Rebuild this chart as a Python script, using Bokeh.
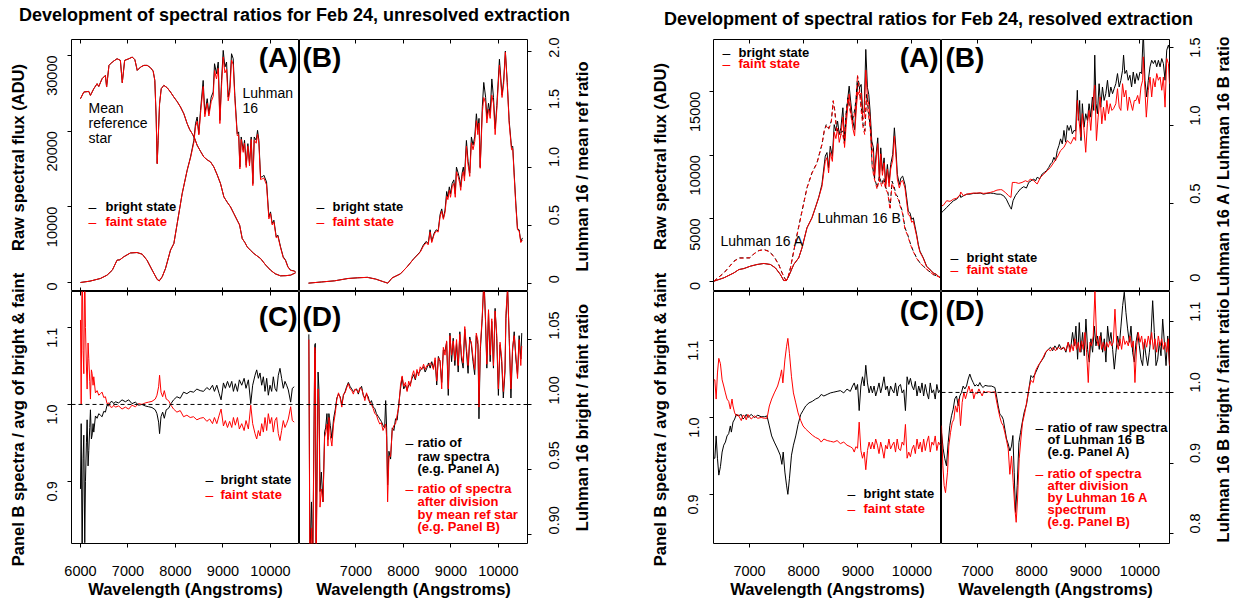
import math
from bokeh.plotting import figure
from bokeh.models import Range1d, LinearAxis, FixedTicker, Label, Span
from bokeh.layouts import row, column
from bokeh.embed import file_html
from bokeh.resources import INLINE

FONT = "Liberation Sans"
BLACK = "#000000"
RED = "#ff0000"

# ---------------- data: unresolved extraction (left group) ----------------
ref_star_flux = [(6000,24290),(6070,25170),(6175,25250),(6210,24730),(6280,25600),(6350,26270),(6385,25900),(6455,26930),(6525,27370),(6550,25830),(6600,28690),(6670,29130),(6770,29570),(6840,29350),(6880,26400),(6930,29350),(7020,29570),(7090,29790),(7145,29440),(7195,28030),(7265,28470),(7335,28690),(7405,28690),(7475,28380),(7530,27940),(7565,26700),(7593,21870),(7615,15710),(7635,18790),(7665,23630),(7700,25610),(7755,26050),(7825,25740),(7895,25170),(7966,24500),(8036,23900),(8106,23190),(8176,22300),(8246,20990),(8300,20200),(8352,19670),(8400,19100),(8457,18130),(8530,17300),(8597,16590),(8670,16200),(8738,15930),(8808,15270),(8880,14200),(8948,13070),(9019,11310),(9090,10600),(9159,9990),(9230,9100),(9299,8230),(9350,7600),(9405,5810),(9460,5300),(9510,4710),(9580,4250),(9650,3830),(9720,3500),(9791,3170),(9900,2300),(10001,1630),(10100,1150),(10212,880),(10320,900),(10423,970),(10528,1280)]

l16_bright_flux = [(6000,0),(6200,180),(6420,530),(6560,970),(6670,1630),(6770,2950),(6830,3000),(6910,3390),(7050,3900),(7190,3960),(7300,3740),(7400,2950),(7510,1630),(7615,400),(7660,220),(7720,750),(7790,1850),(7895,4270),(7966,5150),(8036,7790),(8141,11750),(8246,14830),(8317,16590),(8387,18790),(8422,20990),(8457,21870),(8492,19670),(8527,22750),(8583,26700),(8618,22310),(8668,24290),(8703,22310),(8752,24500),(8794,25170),(8822,28910),(8864,27590),(8900,29130),(8935,21430),(8970,26710),(9005,30670),(9040,28470),(9075,29130),(9110,24500),(9145,25830),(9180,30230),(9215,29570),(9250,24730),(9300,19670),(9330,19900),(9356,15270),(9384,19230),(9426,17470),(9454,18790),(9489,15490),(9524,18350),(9559,15710),(9594,19230),(9629,13070),(9658,19230),(9700,18790),(9728,20110),(9756,18790),(9791,13950),(9826,13950),(9861,14170),(9917,13290),(9966,8670),(10001,9330),(10036,7790),(10072,8230),(10121,6030),(10156,6250),(10212,4710),(10268,3390),(10317,2950),(10367,2070),(10423,1630),(10493,1540),(10528,1410)]

l16_faint_flux = [(6000,0),(6200,180),(6420,530),(6560,970),(6670,1630),(6770,2950),(6830,3000),(6910,3390),(7050,3900),(7190,3960),(7300,3740),(7400,2950),(7510,1630),(7615,400),(7660,220),(7720,750),(7790,1850),(7895,4270),(7966,5150),(8036,7790),(8141,11750),(8246,14830),(8317,16500),(8387,18500),(8422,20600),(8457,21300),(8492,19500),(8527,22300),(8583,25900),(8618,21900),(8668,23700),(8703,22000),(8752,23900),(8794,24600),(8822,28000),(8864,26900),(8900,28300),(8935,21000),(8970,26000),(9005,29800),(9040,27700),(9075,28200),(9110,24000),(9145,25200),(9180,29400),(9215,28800),(9250,24300),(9300,19400),(9330,19500),(9356,15000),(9384,18900),(9426,17200),(9454,18400),(9489,15200),(9524,18000),(9559,15400),(9594,18900),(9629,12800),(9658,18800),(9700,18400),(9728,19600),(9756,18400),(9791,13600),(9826,13700),(9861,13800),(9917,12900),(9966,8400),(10001,9100),(10036,7600),(10072,8000),(10121,5900),(10156,6100),(10212,4600),(10268,3300),(10317,2900),(10367,2050),(10423,1600),(10493,1520),(10528,1400)]

refratio_bright = [(6000,0.0),(6270,0.01),(6550,0.02),(6830,0.04),(7035,0.046),(7240,0.05),(7415,0.035),(7580,0.012),(7670,0.0),(7760,0.045),(7935,0.08),(8075,0.14),(8215,0.21),(8350,0.27),(8420,0.33),(8480,0.36),(8520,0.34),(8560,0.46),(8595,0.36),(8645,0.43),(8690,0.46),(8730,0.45),(8770,0.59),(8805,0.64),(8840,0.56),(8875,0.63),(8910,0.79),(8935,0.74),(8965,0.83),(8990,0.77),(9025,0.86),(9060,0.89),(9090,0.77),(9115,1.0),(9150,0.95),(9185,0.89),(9205,0.83),(9235,0.95),(9260,1.0),(9285,0.92),(9325,1.23),(9360,1.05),(9395,0.95),(9430,1.26),(9465,1.19),(9500,1.26),(9535,1.46),(9565,1.32),(9590,1.42),(9615,1.0),(9660,1.52),(9690,1.73),(9730,1.60),(9755,1.42),(9790,1.55),(9825,1.46),(9860,1.76),(9895,1.60),(9930,1.33),(9965,1.53),(10020,1.93),(10075,1.62),(10110,1.75),(10145,2.0),(10185,1.73),(10225,1.40),(10275,1.17),(10300,1.18),(10330,0.95),(10365,0.69),(10400,0.47),(10435,0.46),(10470,0.36),(10505,0.39)]

refratio_faint = [(6000,0.0),(6270,0.01),(6550,0.02),(6830,0.04),(7035,0.046),(7240,0.05),(7415,0.035),(7580,0.012),(7670,0.0),(7760,0.045),(7935,0.08),(8075,0.14),(8215,0.21),(8350,0.265),(8420,0.32),(8480,0.35),(8520,0.33),(8560,0.44),(8595,0.35),(8645,0.42),(8690,0.45),(8730,0.44),(8770,0.57),(8805,0.62),(8840,0.55),(8875,0.61),(8910,0.75),(8935,0.72),(8965,0.80),(8990,0.74),(9025,0.83),(9060,0.86),(9090,0.74),(9115,0.96),(9150,0.92),(9185,0.86),(9205,0.80),(9235,0.92),(9260,0.96),(9285,0.88),(9325,1.18),(9360,1.02),(9395,0.92),(9430,1.21),(9465,1.15),(9500,1.22),(9535,1.40),(9565,1.28),(9590,1.38),(9615,0.99),(9660,1.47),(9690,1.60),(9730,1.55),(9755,1.38),(9790,1.50),(9825,1.42),(9860,1.62),(9895,1.55),(9930,1.28),(9965,1.50),(10020,1.88),(10075,1.60),(10110,1.72),(10145,1.99),(10185,1.72),(10225,1.38),(10275,1.15),(10300,1.16),(10330,0.93),(10365,0.67),(10400,0.46),(10435,0.45),(10470,0.35),(10505,0.37)]

avgnorm_bright = [(6000,0.89),(6015,0.975),(6035,0.80),(6055,0.93),(6070,0.96),(6090,0.82),(6105,0.90),(6125,0.95),(6140,0.98),(6160,0.92),(6175,0.94),(6195,0.97),(6210,0.993),(6230,0.955),(6245,0.96),(6265,0.975),(6280,0.964),(6315,0.985),(6350,0.982),(6385,0.988),(6420,0.986),(6455,0.984),(6490,0.991),(6525,0.990),(6560,0.999),(6595,0.998),(6630,1.003),(6665,1.004),(6700,1.001),(6735,1.0035),(6805,1.002),(6875,1.006),(6945,1.0035),(7015,1.006),(7085,1.001),(7155,1.003),(7225,0.999),(7295,1.0),(7365,0.998),(7435,0.997),(7505,0.996),(7575,0.993),(7610,0.988),(7645,0.977),(7665,0.962),(7695,0.984),(7730,0.990),(7765,0.982),(7805,0.993),(7855,0.995),(7905,1.001),(7960,1.006),(8030,1.010),(8100,1.008),(8170,1.016),(8240,1.014),(8310,1.017),(8380,1.016),(8450,1.020),(8520,1.018),(8590,1.017),(8660,1.022),(8720,1.019),(8780,1.025),(8820,1.017),(8870,1.025),(8920,1.014),(8960,1.006),(9010,1.028),(9050,1.021),(9095,1.030),(9140,1.022),(9185,1.030),(9220,1.017),(9260,1.027),(9305,1.017),(9345,1.032),(9395,1.025),(9445,1.034),(9485,1.021),(9535,1.032),(9585,1.001),(9625,1.025),(9675,1.038),(9710,1.045),(9745,1.034),(9780,1.041),(9815,1.025),(9850,1.036),(9885,1.017),(9920,1.034),(9955,1.012),(9990,1.025),(10025,1.017),(10060,1.036),(10095,1.021),(10130,1.017),(10165,1.038),(10200,1.047),(10235,1.034),(10270,1.021),(10305,1.030),(10340,1.025),(10375,1.019),(10425,1.003),(10460,1.021),(10500,1.023)]

avgnorm_faint = [(6000,1.11),(6015,1.0),(6035,1.2),(6055,1.07),(6070,1.04),(6090,1.18),(6105,1.10),(6125,1.05),(6140,1.02),(6160,1.08),(6175,1.06),(6195,1.03),(6210,1.007),(6230,1.045),(6245,1.04),(6265,1.025),(6280,1.036),(6315,1.015),(6350,1.018),(6385,1.012),(6420,1.014),(6455,1.016),(6490,1.009),(6525,1.010),(6560,1.001),(6595,1.002),(6630,0.997),(6665,0.996),(6700,0.999),(6735,0.9965),(6805,0.998),(6875,0.994),(6945,0.9965),(7015,0.994),(7085,0.999),(7155,0.997),(7225,1.001),(7295,1.0),(7365,1.002),(7435,1.003),(7505,1.004),(7575,1.007),(7610,1.012),(7645,1.023),(7665,1.038),(7695,1.016),(7730,1.010),(7765,1.018),(7805,1.007),(7855,1.005),(7905,0.999),(7960,0.994),(8030,0.990),(8100,0.992),(8170,0.984),(8240,0.986),(8310,0.983),(8380,0.984),(8450,0.980),(8520,0.982),(8590,0.983),(8660,0.978),(8720,0.981),(8780,0.975),(8820,0.983),(8870,0.975),(8920,0.986),(8960,0.994),(9010,0.972),(9050,0.979),(9095,0.970),(9140,0.978),(9185,0.970),(9220,0.983),(9260,0.973),(9305,0.983),(9345,0.968),(9395,0.975),(9445,0.966),(9485,0.979),(9535,0.968),(9585,0.999),(9625,0.975),(9675,0.962),(9710,0.955),(9745,0.966),(9780,0.959),(9815,0.975),(9850,0.964),(9885,0.983),(9920,0.966),(9955,0.988),(9990,0.975),(10025,0.983),(10060,0.964),(10095,0.979),(10130,0.983),(10165,0.962),(10200,0.953),(10235,0.966),(10270,0.979),(10305,0.970),(10340,0.975),(10375,0.981),(10425,0.997),(10460,0.979),(10500,0.977)]

bf_raw_ratio = [(6008,1.054),(6030,0.88),(6063,0.925),(6090,0.88),(6133,1.046),(6145,1.047),(6160,0.88),(6202,1.025),(6220,1.012),(6243,0.933),(6271,0.948),(6306,0.925),(6340,0.979),(6361,0.982),(6389,0.993),(6410,0.973),(6430,0.993),(6459,0.984),(6493,0.974),(6528,0.989),(6563,0.996),(6597,1.005),(6632,1.008),(6667,1.006),(6702,1.0),(6736,1.007),(6771,1.010),(6806,1.014),(6840,1.017),(6875,1.014),(6910,1.012),(6945,1.010),(6979,1.011),(7014,1.012),(7049,1.008),(7083,1.012),(7118,1.014),(7153,1.007),(7187,1.005),(7222,1.008),(7257,1.006),(7291,1.001),(7326,1.003),(7361,0.998),(7396,0.997),(7430,0.993),(7465,0.991),(7500,0.989),(7534,0.987),(7569,0.984),(7604,0.982),(7625,1.003),(7645,0.982),(7666,0.938),(7694,0.964),(7729,0.958),(7763,0.982),(7798,0.980),(7833,0.989),(7867,0.988),(7902,1.001),(7937,1.012),(7972,1.021),(8006,1.012),(8041,1.015),(8076,1.011),(8110,1.015),(8145,1.016),(8180,1.020),(8214,1.023),(8249,1.019),(8284,1.025),(8318,1.024),(8353,1.026),(8388,1.028),(8423,1.029),(8457,1.025),(8492,1.028),(8527,1.032),(8562,1.028),(8596,1.033),(8631,1.028),(8666,1.034),(8700,1.015),(8735,1.037),(8770,1.033),(8805,1.017),(8839,1.042),(8874,1.041),(8909,1.048),(8943,1.007),(8978,1.055),(9013,1.033),(9047,1.051),(9082,1.030),(9117,1.047),(9152,1.025),(9186,1.056),(9221,1.035),(9256,1.028),(9290,1.058),(9325,1.041),(9360,1.024),(9395,1.052),(9429,1.046),(9464,1.033),(9499,1.023),(9533,1.053),(9568,1.046),(9589,0.989),(9617,1.041),(9658,1.066),(9686,1.09),(9705,1.088),(9727,1.064),(9755,1.028),(9790,1.071),(9825,1.033),(9859,1.064),(9894,1.028),(9929,1.074),(9963,1.051),(9998,1.007),(10033,1.046),(10067,1.033),(10102,1.005),(10137,1.025),(10157,1.066),(10192,1.09),(10227,1.051),(10262,1.005),(10296,1.041),(10331,1.056),(10366,1.035),(10401,1.023),(10435,1.053),(10470,1.035),(10490,1.055)]

bf_refdiv_ratio = [(6008,1.050),(6030,0.87),(6063,0.905),(6090,0.87),(6133,1.044),(6145,1.04),(6160,0.87),(6202,1.012),(6220,1.0),(6243,0.921),(6271,0.935),(6306,0.925),(6340,0.975),(6361,0.978),(6389,0.985),(6410,0.968),(6430,0.990),(6459,0.976),(6493,0.968),(6528,0.985),(6563,0.993),(6597,1.004),(6632,1.009),(6667,1.005),(6702,0.998),(6736,1.008),(6771,1.009),(6806,1.013),(6840,1.016),(6875,1.012),(6910,1.011),(6945,1.008),(6979,1.012),(7014,1.011),(7049,1.009),(7083,1.013),(7118,1.012),(7153,1.008),(7187,1.003),(7222,1.009),(7257,1.004),(7291,1.002),(7326,1.0),(7361,0.997),(7396,0.993),(7430,0.992),(7465,0.988),(7500,0.985),(7534,0.986),(7569,0.980),(7604,0.983),(7625,0.985),(7645,0.975),(7666,0.925),(7694,0.960),(7729,0.960),(7763,0.980),(7798,0.984),(7833,0.985),(7867,0.992),(7902,0.998),(7937,1.015),(7972,1.022),(8006,1.014),(8041,1.017),(8076,1.010),(8110,1.018),(8145,1.014),(8180,1.022),(8214,1.026),(8249,1.020),(8284,1.027),(8318,1.022),(8353,1.029),(8388,1.027),(8423,1.031),(8457,1.027),(8492,1.030),(8527,1.030),(8562,1.032),(8596,1.031),(8631,1.027),(8666,1.036),(8700,1.018),(8735,1.036),(8770,1.034),(8805,1.012),(8839,1.044),(8874,1.038),(8909,1.049),(8943,1.012),(8978,1.053),(9013,1.038),(9047,1.049),(9082,1.034),(9117,1.050),(9152,1.030),(9186,1.054),(9221,1.038),(9256,1.032),(9290,1.060),(9325,1.044),(9360,1.030),(9395,1.050),(9429,1.048),(9464,1.036),(9499,1.027),(9533,1.055),(9568,1.049),(9589,0.998),(9617,1.044),(9658,1.068),(9686,1.09),(9705,1.085),(9727,1.066),(9755,1.031),(9790,1.073),(9825,1.038),(9859,1.066),(9894,1.030),(9929,1.072),(9963,1.054),(9998,1.012),(10033,1.048),(10067,1.036),(10102,1.010),(10137,1.028),(10157,1.070),(10192,1.09),(10227,1.050),(10262,1.012),(10296,1.044),(10331,1.053),(10366,1.038),(10401,1.020),(10435,1.050),(10470,1.030),(10490,1.045)]

# ---------------- data: resolved extraction (right group) ----------------
l16B_bright_flux = [(6340,50),(6528,320),(6712,710),(6804,970),(6896,1050),(7018,1240),(7141,1370),(7264,1450),(7386,1370),(7478,1100),(7570,580),(7632,105),(7681,105),(7724,450),(7816,1370),(7908,1890),(7969,2680),(8061,4260),(8153,5050),(8215,5840),(8276,6630),(8337,7680),(8399,9920),(8430,10200),(8460,9000),(8491,10700),(8530,9900),(8564,12400),(8595,11900),(8626,12680),(8657,11620),(8687,12150),(8724,13730),(8755,11100),(8785,13070),(8816,14520),(8840,15440),(8871,14120),(8908,12680),(8940,12000),(8976,14520),(9000,15700),(9031,15310),(9061,15570),(9092,13330),(9117,13470),(9147,18330),(9178,15310),(9202,14780),(9227,13470),(9258,11100),(9288,10570),(9307,8470),(9337,10050),(9368,11360),(9399,8210),(9423,10570),(9454,8730),(9485,9780),(9515,7680),(9546,9260),(9577,7810),(9607,9260),(9644,10050),(9675,12150),(9706,10310),(9730,8470),(9767,7680),(9797,8210),(9828,8340),(9871,7680),(9902,6630),(9932,5580),(9963,5440),(9994,4920),(10025,5050),(10055,4390),(10086,3730),(10117,2950),(10147,2420),(10178,2160),(10209,1890),(10270,1240),(10332,970),(10393,710),(10455,580),(10516,320)]

l16B_faint_flux = [(6340,50),(6528,320),(6712,710),(6804,970),(6896,1050),(7018,1240),(7141,1370),(7264,1450),(7386,1370),(7478,1100),(7570,580),(7632,105),(7681,105),(7724,450),(7816,1370),(7908,1890),(7969,2680),(8061,4260),(8153,5050),(8215,5840),(8276,6630),(8337,7500),(8399,9500),(8430,9800),(8460,8600),(8491,10200),(8530,9500),(8564,11800),(8595,11300),(8626,12100),(8657,11000),(8687,11600),(8724,13000),(8755,10600),(8785,12400),(8816,13900),(8840,14800),(8871,13500),(8908,12100),(8940,11500),(8976,13900),(9000,15000),(9031,14700),(9061,14900),(9092,12800),(9117,13000),(9147,16700),(9178,14500),(9202,14000),(9227,12900),(9258,10600),(9288,10100),(9307,8100),(9337,9600),(9368,10900),(9399,7900),(9423,10100),(9454,8400),(9485,9400),(9515,7400),(9546,8900),(9577,7500),(9607,8900),(9644,9600),(9675,11500),(9706,9800),(9730,8100),(9767,7400),(9797,7900),(9828,8000),(9871,7400),(9902,6300),(9932,5300),(9963,5200),(9994,4700),(10025,4800),(10055,4200),(10086,3600),(10117,2850),(10147,2350),(10178,2100),(10209,1850),(10270,1200),(10332,950),(10393,700),(10455,570),(10516,320)]

l16A_bright_flux = [(6340,50),(6528,710),(6712,1630),(6804,1890),(6896,1890),(7006,1890),(7080,2210),(7172,2470),(7264,2550),(7356,2420),(7448,2030),(7540,1370),(7601,710),(7663,180),(7700,180),(7755,1100),(7816,2420),(7890,4000),(7969,5580),(8061,7420),(8153,8600),(8245,9390),(8337,10840),(8380,11890),(8417,12410),(8460,12100),(8510,12680),(8546,14260),(8577,13470),(8610,12000),(8645,11890),(8682,11760),(8718,11890),(8750,11000),(8786,13470),(8816,14520),(8853,13730),(8896,12680),(8927,13200),(8964,14260),(8994,16230),(9025,15570),(9061,13860),(9098,12410),(9129,11890),(9160,14780),(9203,13200),(9234,12020),(9264,9260),(9295,8470),(9326,7940),(9356,7420),(9399,8340),(9442,7680),(9479,8210),(9515,7420),(9552,7150),(9595,5840),(9632,7940),(9670,7500),(9706,6890),(9749,6630),(9779,6100),(9822,5580),(9871,4260),(9920,3730),(9975,2950),(10025,2420),(10086,1890),(10147,1500),(10209,1240),(10301,890),(10393,580),(10516,370)]

l16A_faint_flux = [(6340,60),(6528,700),(6712,1600),(6804,1870),(6896,1880),(7006,1900),(7080,2200),(7172,2460),(7264,2540),(7356,2400),(7448,2000),(7540,1350),(7601,700),(7663,180),(7700,190),(7755,1080),(7816,2400),(7890,3950),(7969,5550),(8061,7400),(8153,8580),(8245,9350),(8337,10800),(8380,11950),(8417,12300),(8460,12000),(8510,12600),(8546,14300),(8577,13300),(8610,11800),(8645,11700),(8682,11600),(8718,11700),(8750,10900),(8786,13300),(8816,14400),(8853,13600),(8896,12500),(8927,13000),(8964,14100),(8994,16300),(9025,15300),(9061,13500),(9098,12100),(9129,11600),(9160,14400),(9203,12900),(9234,11800),(9264,9100),(9295,8300),(9326,7800),(9356,7300),(9399,8200),(9442,7500),(9479,8000),(9515,7300),(9552,7000),(9595,5700),(9632,7800),(9670,7300),(9706,6700),(9749,6500),(9779,6000),(9822,5450),(9871,4150),(9920,3650),(9975,2900),(10025,2380),(10086,1850),(10147,1480),(10209,1220),(10301,880),(10393,570),(10516,360)]

abratio_bright = [(6340,0.444),(6370,0.454),(6430,0.476),(6493,0.497),(6555,0.519),(6616,0.529),(6678,0.557),(6690,0.54),(6740,0.551),(6802,0.561),(6864,0.561),(6926,0.566),(6988,0.566),(7050,0.568),(7111,0.561),(7173,0.566),(7235,0.568),(7297,0.566),(7359,0.561),(7421,0.561),(7482,0.551),(7532,0.529),(7575,0.497),(7606,0.476),(7625,0.465),(7656,0.519),(7699,0.551),(7742,0.572),(7792,0.594),(7853,0.609),(7903,0.600),(7946,0.636),(7990,0.647),(8039,0.658),(8070,0.645),(8101,0.669),(8150,0.660),(8194,0.690),(8237,0.701),(8274,0.711),(8317,0.733),(8348,0.754),(8379,0.765),(8410,0.797),(8441,0.775),(8472,0.840),(8503,0.872),(8534,0.915),(8565,0.883),(8596,0.969),(8627,0.894),(8658,1.001),(8689,0.969),(8720,1.001),(8750,0.947),(8781,0.969),(8812,0.965),(8843,1.226),(8862,1.033),(8886,1.161),(8911,0.904),(8936,1.140),(8967,0.990),(8998,1.076),(9029,1.033),(9060,1.140),(9091,1.054),(9121,1.183),(9146,1.097),(9165,1.451),(9189,1.140),(9214,1.076),(9245,1.268),(9276,1.118),(9307,1.247),(9338,1.161),(9369,1.204),(9400,1.290),(9431,1.183),(9462,1.247),(9493,1.204),(9523,1.236),(9554,1.268),(9585,1.333),(9616,1.247),(9647,1.290),(9678,1.354),(9697,1.451),(9721,1.333),(9752,1.354),(9783,1.290),(9814,1.322),(9845,1.247),(9876,1.343),(9907,1.268),(9938,1.333),(9969,1.290),(10000,1.343),(10030,1.333),(10061,1.60),(10092,1.290),(10123,1.183),(10154,1.290),(10185,1.376),(10216,1.418),(10247,1.397),(10278,1.418),(10309,1.376),(10340,1.418),(10371,1.376),(10402,1.429),(10432,1.397),(10463,1.290),(10494,1.483),(10525,1.515),(10545,1.49)]

abratio_faint = [(6340,0.486),(6370,0.490),(6430,0.519),(6493,0.515),(6555,0.529),(6616,0.535),(6678,0.557),(6690,0.575),(6740,0.551),(6802,0.561),(6864,0.565),(6926,0.568),(6988,0.568),(7050,0.570),(7111,0.566),(7173,0.568),(7235,0.572),(7297,0.578),(7359,0.587),(7421,0.590),(7451,0.589),(7513,0.572),(7575,0.551),(7618,0.540),(7643,0.636),(7699,0.636),(7761,0.630),(7822,0.636),(7884,0.647),(7930,0.640),(7977,0.658),(8039,0.647),(8101,0.626),(8163,0.669),(8225,0.690),(8286,0.711),(8348,0.733),(8410,0.765),(8472,0.797),(8534,0.840),(8596,0.861),(8658,0.904),(8720,0.883),(8781,0.926),(8812,0.905),(8843,1.161),(8874,1.033),(8905,0.926),(8936,1.076),(8967,0.970),(8998,0.829),(9029,1.011),(9060,1.097),(9091,0.969),(9121,1.118),(9165,1.258),(9196,0.904),(9227,1.054),(9264,1.183),(9295,1.011),(9326,1.118),(9357,1.033),(9388,1.161),(9419,1.076),(9450,1.140),(9481,1.097),(9511,1.108),(9554,1.140),(9585,1.236),(9616,1.118),(9647,1.097),(9678,1.268),(9709,1.183),(9740,1.226),(9771,1.097),(9802,1.183),(9833,1.140),(9864,1.097),(9895,1.160),(9926,1.161),(9957,1.193),(9988,1.140),(10018,1.247),(10049,1.290),(10061,1.440),(10092,1.226),(10117,1.054),(10154,1.226),(10185,1.311),(10216,1.183),(10247,1.301),(10278,1.247),(10309,1.333),(10340,1.290),(10371,1.311),(10402,1.226),(10432,1.311),(10463,1.118),(10494,1.429),(10525,1.397),(10545,1.268)]

bnorm_bright = [(6340,0.947),(6360,0.947),(6384,0.976),(6408,0.947),(6433,0.925),(6463,0.936),(6494,0.955),(6524,0.964),(6555,0.968),(6585,0.976),(6616,0.979),(6646,0.989),(6665,0.981),(6695,0.994),(6726,0.998),(6756,1.004),(6787,1.002),(6848,1.004),(6880,0.998),(6909,1.0),(6940,1.004),(6970,1.0),(7031,1.004),(7092,1.0),(7153,1.003),(7214,1.001),(7275,1.001),(7323,1.002),(7366,0.989),(7409,0.976),(7458,0.968),(7519,0.959),(7567,0.951),(7598,0.939),(7622,0.955),(7653,0.929),(7683,0.912),(7708,0.9),(7738,0.921),(7775,0.951),(7811,0.964),(7854,0.976),(7897,0.991),(7946,1.004),(7988,1.009),(8037,1.015),(8098,1.019),(8159,1.021),(8220,1.024),(8281,1.026),(8324,1.030),(8373,1.028),(8434,1.030),(8495,1.032),(8556,1.033),(8617,1.034),(8678,1.035),(8740,1.032),(8800,1.037),(8861,1.034),(8903,1.041),(8934,1.045),(8964,1.036),(8995,1.043),(9025,1.009),(9056,1.041),(9086,1.053),(9117,1.041),(9147,1.068),(9178,1.045),(9208,1.032),(9239,1.041),(9269,1.032),(9300,1.041),(9330,1.028),(9361,1.036),(9391,1.045),(9422,1.032),(9452,1.041),(9483,1.053),(9513,1.036),(9544,1.041),(9574,1.028),(9605,1.041),(9635,1.036),(9666,1.032),(9696,1.045),(9727,1.028),(9757,1.041),(9788,1.043),(9818,1.032),(9849,1.036),(9879,1.009),(9910,1.053),(9940,1.043),(9971,1.051),(10001,1.041),(10032,1.036),(10062,1.047),(10093,1.028),(10124,1.041),(10154,1.032),(10185,1.045),(10215,1.028),(10246,1.043),(10276,1.032),(10307,1.024),(10337,1.045),(10368,1.032),(10398,1.036),(10429,1.024),(10459,1.043),(10490,1.032),(10520,1.036)]

bnorm_faint = [(6340,1.049),(6360,1.049),(6384,1.024),(6408,1.058),(6433,1.077),(6463,1.070),(6494,1.049),(6524,1.041),(6555,1.032),(6585,1.024),(6616,1.021),(6646,1.011),(6677,1.024),(6695,1.015),(6726,1.006),(6756,1.002),(6787,1.004),(6848,0.996),(6880,1.003),(6909,1.002),(6940,0.997),(6970,1.004),(7031,0.998),(7092,1.002),(7153,0.999),(7214,1.0),(7275,0.999),(7323,0.999),(7366,1.015),(7409,1.024),(7458,1.032),(7519,1.041),(7567,1.053),(7592,1.062),(7616,1.045),(7653,1.075),(7683,1.092),(7708,1.103),(7738,1.083),(7775,1.053),(7811,1.032),(7854,1.019),(7897,1.006),(7946,0.996),(7988,0.989),(8037,0.985),(8098,0.981),(8159,0.977),(8220,0.974),(8281,0.972),(8324,0.968),(8373,0.972),(8434,0.970),(8495,0.969),(8556,0.968),(8617,0.970),(8678,0.966),(8740,0.968),(8800,0.964),(8861,0.962),(8903,0.960),(8934,0.955),(8964,0.962),(8995,0.960),(9025,0.994),(9056,0.957),(9086,0.947),(9117,0.955),(9147,0.932),(9178,0.957),(9208,0.968),(9239,0.959),(9269,0.968),(9300,0.959),(9330,0.972),(9361,0.964),(9391,0.953),(9422,0.968),(9452,0.959),(9483,0.947),(9513,0.964),(9544,0.959),(9574,0.972),(9605,0.959),(9635,0.964),(9666,0.968),(9696,0.955),(9727,0.972),(9757,0.959),(9788,0.957),(9818,0.968),(9849,0.964),(9879,0.991),(9910,0.947),(9940,0.955),(9971,0.949),(10001,0.959),(10032,0.964),(10062,0.953),(10093,0.972),(10124,0.959),(10154,0.968),(10185,0.955),(10215,0.972),(10246,0.957),(10276,0.968),(10307,0.976),(10337,0.955),(10368,0.968),(10398,0.964),(10429,0.976),(10459,0.957),(10490,0.968),(10520,0.964)]

Bbf_raw_ratio = [(6335,0.943),(6366,0.920),(6396,0.906),(6427,0.896),(6458,0.929),(6489,0.953),(6520,0.967),(6550,0.976),(6581,0.991),(6612,0.995),(6643,0.981),(6673,0.995),(6704,1.0),(6735,1.009),(6766,1.005),(6797,1.009),(6828,1.019),(6858,1.026),(6889,1.019),(6920,1.014),(6951,1.009),(6981,1.011),(7012,1.009),(7043,1.014),(7074,1.009),(7105,1.007),(7136,1.010),(7197,1.009),(7259,1.009),(7320,1.007),(7351,0.995),(7382,0.981),(7413,0.969),(7443,0.967),(7474,0.962),(7505,0.948),(7536,0.934),(7567,0.927),(7597,0.917),(7628,0.924),(7653,0.939),(7677,0.887),(7702,0.830),(7733,0.868),(7764,0.929),(7794,0.943),(7825,0.957),(7862,0.972),(7905,0.983),(7949,1.005),(7986,1.024),(8023,1.021),(8060,1.026),(8103,1.033),(8140,1.040),(8183,1.045),(8226,1.050),(8263,1.057),(8306,1.061),(8349,1.064),(8386,1.059),(8429,1.066),(8472,1.061),(8509,1.068),(8552,1.061),(8595,1.064),(8632,1.057),(8675,1.071),(8718,1.061),(8755,1.085),(8786,1.066),(8817,1.094),(8848,1.047),(8879,1.099),(8909,1.057),(8940,1.085),(8971,1.052),(9002,1.104),(9033,1.061),(9064,1.043),(9094,1.076),(9125,1.057),(9156,1.094),(9187,1.066),(9217,1.080),(9248,1.061),(9279,1.085),(9310,1.057),(9341,1.076),(9371,1.043),(9402,1.094),(9433,1.071),(9464,1.085),(9495,1.061),(9526,1.033),(9556,1.057),(9587,1.080),(9618,1.066),(9649,1.094),(9680,1.123),(9710,1.142),(9741,1.113),(9772,1.090),(9803,1.071),(9834,1.094),(9864,1.057),(9895,1.043),(9926,1.071),(9957,1.085),(9988,1.066),(10018,1.047),(10049,1.038),(10080,1.071),(10111,1.052),(10142,1.038),(10173,1.057),(10203,1.080),(10234,1.130),(10265,1.085),(10296,1.038),(10327,1.047),(10357,1.071),(10388,1.052),(10419,1.104),(10450,1.071),(10481,1.038),(10512,1.080),(10545,1.038)]

Bbf_adiv_ratio = [(6335,0.953),(6360,0.896),(6384,0.868),(6409,0.858),(6446,0.887),(6470,0.924),(6501,0.943),(6532,0.957),(6563,0.962),(6593,0.981),(6624,0.972),(6655,0.991),(6686,0.953),(6717,0.986),(6748,1.0),(6778,0.991),(6809,1.0),(6840,1.009),(6871,1.0),(6901,1.005),(6932,0.991),(6963,1.0),(6994,0.998),(7025,1.005),(7055,1.0),(7086,0.995),(7117,1.002),(7148,1.0),(7197,1.001),(7259,1.0),(7320,1.001),(7351,0.988),(7382,0.976),(7413,0.965),(7443,0.957),(7474,0.953),(7505,0.943),(7536,0.932),(7567,0.920),(7597,0.884),(7628,0.910),(7659,0.872),(7690,0.835),(7714,0.816),(7739,0.849),(7770,0.906),(7801,0.934),(7831,0.957),(7875,0.972),(7918,0.991),(7955,1.007),(7986,1.017),(8029,1.014),(8072,1.031),(8121,1.038),(8164,1.043),(8214,1.050),(8257,1.057),(8306,1.061),(8349,1.059),(8398,1.064),(8441,1.059),(8491,1.064),(8534,1.061),(8583,1.064),(8626,1.059),(8675,1.071),(8706,1.057),(8737,1.068),(8767,1.059),(8798,1.076),(8829,1.061),(8860,1.071),(8891,1.057),(8922,1.073),(8952,1.061),(8983,1.085),(9014,1.057),(9045,1.014),(9076,1.071),(9106,1.066),(9137,1.080),(9168,1.144),(9199,1.076),(9230,1.066),(9261,1.080),(9291,1.061),(9322,1.071),(9353,1.059),(9384,1.071),(9415,1.064),(9445,1.073),(9476,1.066),(9507,1.071),(9538,1.118),(9569,1.071),(9599,1.061),(9630,1.076),(9661,1.061),(9692,1.080),(9723,1.068),(9753,1.073),(9784,1.066),(9815,1.080),(9846,1.064),(9877,1.073),(9907,1.014),(9938,1.066),(9969,1.085),(10000,1.071),(10031,1.080),(10061,1.061),(10092,1.076),(10123,1.064),(10154,1.080),(10185,1.068),(10216,1.085),(10246,1.061),(10277,1.076),(10308,1.057),(10339,1.080),(10370,1.066),(10401,1.076),(10431,1.061),(10462,1.071),(10493,1.057),(10524,1.076),(10545,1.038)]

# ---------------- axis ranges and tick labels ----------------
XR_L = (5811, 10611)
XR_R = (6335, 10545)
YR_AL = (-1190, 32110)
YR_BL = (-0.072, 2.10)
YR_CL = (0.819, 1.147)
YR_DL = (0.893, 1.087)
YR_AR = (-760, 19115)
YR_BR = (-0.062, 1.551)
YR_CR = (0.836, 1.164)
YR_DR = (0.786, 1.143)

xt_C_L = [6000, 7000, 8000, 9000, 10000]
xt_D = [7000, 8000, 9000, 10000]
xl_C_L = ["6000", "7000", "8000", "9000", "10000"]
xl_D = ["7000", "8000", "9000", "10000"]
yt_AL = [0, 10000, 20000, 30000]; yl_AL = ["0", "10000", "20000", "30000"]
yt_BL = [0, 0.5, 1.0, 1.5, 2.0]; yl_BL = ["0", "0.5", "1.0", "1.5", "2.0"]
yt_CL = [0.9, 1.0, 1.1]; yl_CL = ["0.9", "1.0", "1.1"]
yt_DL = [0.90, 0.95, 1.00, 1.05]; yl_DL = ["0.90", "0.95", "1.00", "1.05"]
yt_AR = [0, 5000, 10000, 15000]; yl_AR = ["0", "5000", "10000", "15000"]
yt_BR = [0, 0.5, 1.0, 1.5]; yl_BR = ["0", "0.5", "1.0", "1.5"]
yt_CR = [0.9, 1.0, 1.1]; yl_CR = ["0.9", "1.0", "1.1"]
yt_DR = [0.8, 0.9, 1.0, 1.1]; yl_DR = ["0.8", "0.9", "1.0", "1.1"]

TICK_FS = "14.5px"
TITLE_FS = "16.5px"


def xy(pairs):
    return [p[0] for p in pairs], [p[1] for p in pairs]


def panel(w, h, xr, yr, bl=0, br=0, bt=0, bb=0):
    p = figure(width=w, height=h, x_range=Range1d(*xr), y_range=Range1d(*yr),
               output_backend="svg", toolbar_location=None, tools="", title=None,
               x_axis_location=None, y_axis_location=None,
               min_border_left=bl, min_border_right=br, min_border_top=bt, min_border_bottom=bb)
    p.xgrid.grid_line_color = None
    p.ygrid.grid_line_color = None
    p.outline_line_color = "black"
    p.outline_line_width = 1
    p.background_fill_color = "white"
    p.border_fill_color = "white"
    return p


def blank(w, h):
    p = figure(width=w, height=h, x_range=Range1d(0, 1), y_range=Range1d(0, 1),
               output_backend="svg", toolbar_location=None, tools="", title=None,
               x_axis_location=None, y_axis_location=None,
               min_border_left=0, min_border_right=0, min_border_top=0, min_border_bottom=0)
    p.xgrid.grid_line_color = None
    p.ygrid.grid_line_color = None
    p.outline_line_color = None
    p.background_fill_color = "white"
    p.border_fill_color = "white"
    return p


def axis(p, side, ticks, labels=None, fixed=None, tin=0, tout=4, standoff=10, title=None, title_standoff=4):
    ax = LinearAxis(ticker=FixedTicker(ticks=ticks, minor_ticks=[]))
    ax.major_tick_in = tin
    ax.major_tick_out = tout
    ax.major_tick_line_color = "black"
    ax.major_tick_line_width = 1
    ax.minor_tick_line_color = None
    ax.axis_line_color = None
    if labels is None:
        ax.major_label_overrides = {t: "" for t in ticks}
        ax.major_label_text_color = None
        ax.major_label_standoff = 0
    else:
        ax.major_label_overrides = dict(zip(ticks, labels))
        ax.major_label_text_font = FONT
        ax.major_label_text_font_size = TICK_FS
        ax.major_label_text_color = "black"
        ax.major_label_standoff = standoff
        if side in ("left", "right"):
            ax.major_label_orientation = math.pi / 2
    if title:
        ax.axis_label = title
        ax.axis_label_text_font = FONT
        ax.axis_label_text_font_size = TITLE_FS
        ax.axis_label_text_font_style = "bold"
        ax.axis_label_text_color = "black"
        ax.axis_label_standoff = title_standoff
    if fixed is not None:
        ax.fixed_location = fixed
    p.add_layout(ax, side)
    return ax


def text(p, x, y, s, size="14px", color=BLACK, bold=False, align="left", angle=0.0):
    p.add_layout(Label(x=x, y=y, x_units="screen", y_units="screen", text=s,
                       text_font=FONT, text_font_size=size,
                       text_font_style="bold" if bold else "normal",
                       text_color=color, text_align=align, text_baseline="middle", angle=angle))


def vtitle(p, x, y, s):
    text(p, x, y, s, size=TITLE_FS, bold=True, align="center", angle=math.pi / 2)


def legend_item(p, x_dash, x_text, y, s, color):
    text(p, x_dash, y, "\u2013", size="14px", color=color)
    text(p, x_text, y, s, size="13px", color=color, bold=True)


def curve(p, pairs, color, dash="solid"):
    xs, ys = xy(pairs)
    p.line(xs, ys, line_color=color, line_width=1, line_dash=dash)


def dashed_one(p):
    p.add_layout(Span(location=1.0, dimension="width", line_color="black", line_width=1, line_dash="4 3"))


# ================= LEFT GROUP =================
AL = panel(268, 254, XR_L, YR_AL, bl=40, bt=2)
axis(AL, "left", yt_AL, yl_AL, standoff=15)
axis(AL, "above", xt_C_L, fixed=YR_AL[1], tin=4, tout=0)
axis(AL, "below", xt_C_L, fixed=YR_AL[0], tin=4, tout=0)
curve(AL, ref_star_flux, BLACK)
curve(AL, ref_star_flux, RED)
curve(AL, l16_bright_flux, BLACK)
curve(AL, l16_faint_flux, RED)
text(AL, 226, 234, "(A)", size="28px", bold=True, align="right")
text(AL, 17, 184, "Mean")
text(AL, 17, 169, "reference")
text(AL, 17, 154, "star")
text(AL, 171, 199, "Luhman")
text(AL, 171, 184, "16")
legend_item(AL, 17, 34, 85, "bright state", BLACK)
legend_item(AL, 17, 34, 70, "faint state", RED)

BL = panel(274, 254, XR_L, YR_BL, br=46, bt=2)
axis(BL, "right", yt_BL, yl_BL, standoff=23)
axis(BL, "above", xt_D, fixed=YR_BL[1], tin=4, tout=0)
axis(BL, "below", xt_D, fixed=YR_BL[0], tin=4, tout=0)
curve(BL, refratio_bright, BLACK)
curve(BL, refratio_faint, RED)
text(BL, 3, 234, "(B)", size="28px", bold=True)
legend_item(BL, 17, 33, 85, "bright state", BLACK)
legend_item(BL, 17, 33, 70, "faint state", RED)

CL = panel(268, 312, XR_L, YR_CL, bl=40, bb=60)
axis(CL, "left", yt_CL, yl_CL, standoff=15)
axis(CL, "below", xt_C_L, xl_C_L, standoff=18, title="Wavelength (Angstroms)", title_standoff=1)
axis(CL, "above", xt_C_L, fixed=YR_CL[1], tin=4, tout=0)
dashed_one(CL)
curve(CL, avgnorm_bright, BLACK)
curve(CL, avgnorm_faint, RED)
text(CL, 226, 227, "(C)", size="28px", bold=True, align="right")
legend_item(CL, 134, 149, 64, "bright state", BLACK)
legend_item(CL, 134, 149, 49, "faint state", RED)

DL = panel(274, 312, XR_L, YR_DL, br=46, bb=60)
axis(DL, "right", yt_DL, yl_DL, standoff=23)
axis(DL, "below", xt_D, xl_D, standoff=18, title="Wavelength (Angstroms)", title_standoff=1)
axis(DL, "above", xt_D, fixed=YR_DL[1], tin=4, tout=0)
dashed_one(DL)
curve(DL, bf_raw_ratio, BLACK)
curve(DL, bf_refdiv_ratio, RED)
text(DL, 3, 227, "(D)", size="28px", bold=True)
legend_item(DL, 106, 118, 101, "ratio of", BLACK)
text(DL, 118, 87, "raw spectra", size="13px", bold=True)
text(DL, 118, 75, "(e.g. Panel A)", size="13px", bold=True)
legend_item(DL, 106, 118, 55, "ratio of spectra", RED)
text(DL, 118, 42, "after division", size="13px", bold=True, color=RED)
text(DL, 118, 29, "by mean ref star", size="13px", bold=True, color=RED)
text(DL, 118, 17, "(e.g. Panel B)", size="13px", bold=True, color=RED)

titleL = blank(620, 37)
text(titleL, 294, 23, "Development of spectral ratios for Feb 24, unresolved extraction",
     size="18px", bold=True, align="center")
stripL1 = blank(31, 566)
vtitle(stripL1, 17, 446, "Raw spectral flux (ADU)")
vtitle(stripL1, 17, 184, "Panel B spectra / avg of bright & faint")
stripR1 = blank(47, 566)
vtitle(stripR1, 8, 437, "Luhman 16 / mean ref ratio")
vtitle(stripR1, 8, 186, "Luhman 16 bright / faint ratio")

# ================= RIGHT GROUP =================
AR = panel(270, 254, XR_R, YR_AR, bl=42, bt=2)
axis(AR, "left", yt_AR, yl_AR, standoff=14)
axis(AR, "above", xt_D, fixed=YR_AR[1], tin=4, tout=0)
axis(AR, "below", xt_D, fixed=YR_AR[0], tin=4, tout=0)
curve(AR, l16B_bright_flux, BLACK)
curve(AR, l16B_faint_flux, RED)
curve(AR, l16A_bright_flux, BLACK, dash="4 3")
curve(AR, l16A_faint_flux, RED, dash="4 3")
text(AR, 225, 234, "(A)", size="28px", bold=True, align="right")
legend_item(AR, 9, 25, 239, "bright state", BLACK)
legend_item(AR, 9, 25, 228, "faint state", RED)
text(AR, 7, 51, "Luhman 16 A")
text(AR, 104, 74, "Luhman 16 B")

BR = panel(272, 254, XR_R, YR_BR, br=44, bt=2)
axis(BR, "right", yt_BR, yl_BR, standoff=22)
axis(BR, "above", xt_D, fixed=YR_BR[1], tin=4, tout=0)
axis(BR, "below", xt_D, fixed=YR_BR[0], tin=4, tout=0)
curve(BR, abratio_bright, BLACK)
curve(BR, abratio_faint, RED)
text(BR, 4, 234, "(B)", size="28px", bold=True)
legend_item(BR, 9, 25, 34, "bright state", BLACK)
legend_item(BR, 9, 25, 22, "faint state", RED)

CR = panel(270, 312, XR_R, YR_CR, bl=42, bb=60)
axis(CR, "left", yt_CR, yl_CR, standoff=16)
axis(CR, "below", xt_D, xl_D, standoff=18, title="Wavelength (Angstroms)", title_standoff=1)
axis(CR, "above", xt_D, fixed=YR_CR[1], tin=4, tout=0)
curve(CR, bnorm_bright, BLACK)
curve(CR, bnorm_faint, RED)
text(CR, 225, 233, "(C)", size="28px", bold=True, align="right")
legend_item(CR, 134, 150, 50, "bright state", BLACK)
legend_item(CR, 134, 150, 35, "faint state", RED)

DR = panel(272, 312, XR_R, YR_DR, br=44, bb=60)
axis(DR, "right", yt_DR, yl_DR, standoff=22)
axis(DR, "below", xt_D, xl_D, standoff=18, title="Wavelength (Angstroms)", title_standoff=1)
axis(DR, "above", xt_D, fixed=YR_DR[1], tin=4, tout=0)
dashed_one(DR)
curve(DR, Bbf_raw_ratio, BLACK)
curve(DR, Bbf_adiv_ratio, RED)
text(DR, 4, 233, "(D)", size="28px", bold=True)
legend_item(DR, 94, 106, 116, "ratio of raw spectra", BLACK)
text(DR, 106, 104, "of Luhman 16 B", size="13px", bold=True)
text(DR, 106, 92, "(e.g. Panel A)", size="13px", bold=True)
legend_item(DR, 94, 106, 70, "ratio of spectra", RED)
text(DR, 106, 58, "after division", size="13px", bold=True, color=RED)
text(DR, 106, 46, "by Luhman 16 A", size="13px", bold=True, color=RED)
text(DR, 106, 34, "spectrum", size="13px", bold=True, color=RED)
text(DR, 106, 22, "(e.g. Panel B)", size="13px", bold=True, color=RED)

titleR = blank(617, 37)
text(titleR, 308, 19, "Development of spectral ratios for Feb 24, resolved extraction",
     size="18px", bold=True, align="center")
stripL2 = blank(51, 566)
vtitle(stripL2, 39, 447, "Raw spectral flux (ADU)")
vtitle(stripL2, 39, 184, "Panel B spectra / avg of bright & faint")
stripR2 = blank(24, 566)
vtitle(stripR2, 9, 438, "Luhman 16 A / Luhman 16 B ratio")
vtitle(stripR2, 9, 183, "Luhman 16 B bright / faint ratio")

left = column(titleL, row(stripL1, column(row(AL, BL), row(CL, DL)), stripR1))
right = column(titleR, row(stripL2, column(row(AR, BR), row(CR, DR)), stripR2))
root = row(left, right)

open("out.html", "w").write(file_html(root, INLINE))
